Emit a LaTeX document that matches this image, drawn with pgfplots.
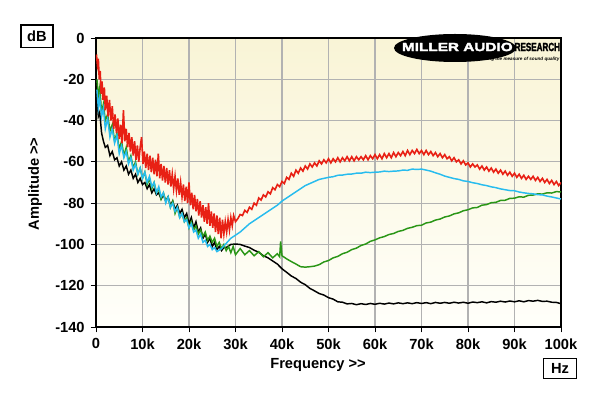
\documentclass[border=0pt]{standalone}
\usepackage{fontspec}
\setmainfont{Liberation Sans}
\newfontfamily\logofont[FakeBold=2.5]{Liberation Sans}
\usepackage{pgfplots}
\pgfplotsset{compat=1.18}
\definecolor{cRed}{RGB}{232,32,20}
\definecolor{cCyan}{RGB}{40,188,238}
\definecolor{cGreen}{RGB}{42,150,22}
\definecolor{cGrid}{RGB}{178,178,178}
\definecolor{bgTop}{RGB}{249,244,214}
\definecolor{bgBot}{RGB}{255,255,250}
\begin{document}
\begin{tikzpicture}[x=1pt,y=1pt]
\useasboundingbox[fill=white] (-72pt,-51.75pt) rectangle (378pt,245.25pt);
\begin{axis}[
  at={(0pt,0pt)}, anchor=south west,
  scale only axis, width=348.75pt, height=216.75pt,
  xmin=0, xmax=100, ymin=-140, ymax=0,
  xtick={0,10,...,100},
  xticklabels={0,10k,20k,30k,40k,50k,60k,70k,80k,90k,100k},
  ytick={-140,-120,...,0},
  tick align=outside, tick pos=left,
  major tick length=4pt,
  tick style={black, line width=0.6pt},
  grid=major,
  major grid style={cGrid, line width=0.8pt},
  axis line style={black, line width=1.5pt},
  axis background/.style={shade, top color=bgTop, bottom color=bgBot},
  /pgf/number format/assume math mode=true,
  ticklabel style={font=\fontsize{11}{13}\selectfont\bfseries},
  xticklabel style={yshift=-1pt},
  yticklabel style={xshift=-1pt},
  clip=true,
]
% black
\addplot[black, line width=1.1pt] coordinates {
(0.2,-28)(0.5,-38)(0.8,-36)(1.2,-46)(1.6,-50)(2.0,-53)(2.5,-52)(3.0,-57)(3.5,-55)(4.0,-59)(4.5,-58)(5.0,-62)(5.5,-60)(6.0,-64)(6.5,-62)(7.0,-66)(7.5,-64)(8.0,-68)(8.5,-66)(9.0,-70)(9.5,-68)(10.0,-71)(10.5,-70)(11.0,-73)(11.5,-71)(12.0,-75)(12.5,-73)(13.0,-76)(13.5,-75)(14.0,-78)(14.5,-76)(15.0,-79)(15.5,-77)(16.0,-81)(16.5,-79)(17.0,-83)(17.5,-81)(18.0,-85)(18.5,-83)(19.0,-87)(19.5,-85)(20.0,-90)(20.5,-87)(21.0,-92)(21.5,-89)(22.0,-94)(22.5,-92)(23.0,-97)(23.5,-95)(24.0,-99)(24.5,-97)(25.0,-101)(25.5,-99)(26.0,-102.5)(26.5,-101)(27.0,-103)(27.5,-101.5)(28.0,-101.5)(29.0,-100)(30.0,-99.8)
(31,-100)(32,-100.8)(33,-101.5)(34,-102.8)(35,-103.8)(36,-105.5)(37,-106.5)(38,-108)(39,-109.5)(40,-111.8)(41,-113.5)(42,-115.3)(43,-116.5)(44,-118.3)(45,-119.5)(46,-121.3)(47,-122.5)(48,-123.8)(49,-124.5)(50,-125.8)(51,-126.5)(52,-127.8)(53,-128)(54,-128.8)(55,-128.6)(56,-129.2)(57,-128.7)(58,-129.1)(59,-128.6)(60,-129)(61,-128.5)(62,-128.9)(63,-128.4)(64,-128.8)(65,-128.3)(66,-128.7)(67,-128.3)(68,-128.7)(69,-128.2)(70,-128.6)(71,-128.2)(72,-128.7)(73,-128.1)(74,-128.5)(75,-128.1)(76,-128.5)(77,-128.0)(78,-128.4)(79,-128.0)(80,-128.5)(81,-127.9)(82,-128.2)(83,-127.8)(84,-128.3)(85,-127.7)(86,-128.0)(87,-127.5)(88,-127.9)(89,-127.4)(90,-127.8)(91,-127.3)(92,-127.8)(93,-127.2)(94,-127.5)(95,-127.1)(96,-127.6)(97,-127.5)(98,-128.0)(99,-128.1)(100,-128.7)
};
% green
\addplot[cGreen, line width=1.1pt] coordinates {
(0.2,-20)(0.5,-28)(0.8,-24)(1.2,-36)(1.6,-32)(2.0,-40)(2.5,-37)(3.0,-45)(3.5,-42)(4.0,-50)(4.5,-46)(5.0,-54)(5.5,-50)(6.0,-57)(6.5,-53)(7.0,-60)(7.5,-57)(8.0,-63)(8.5,-60)(9.0,-66)(9.5,-63)(10.0,-68)(10.5,-65)(11.0,-71)(11.5,-68)(12.0,-73)(12.5,-70)(13.0,-75)(13.5,-73)(14.0,-78)(14.5,-75)(15.0,-79)(15.5,-77)(16.0,-82)(16.5,-79)(17.0,-85)(17.5,-82)(18.0,-87)(18.5,-85)(19.0,-89)(19.5,-87)(20.0,-92)(20.5,-89)(21.0,-93)(21.5,-91)(22.0,-95)(22.5,-93)(23.0,-96)(23.5,-94)(24.0,-98)(24.5,-96)(25.0,-99)(25.5,-97)(26.0,-101)(26.5,-99)(27.0,-102)(27.5,-100)(28.0,-103)(28.5,-101)(29.0,-104)(29.5,-101)(30.0,-105)
(31,-102)(32,-105)(33,-103)(34,-105.5)(35,-103.5)(36,-106)(37,-104)(38,-106.5)(39,-104.5)(39.5,-106)(39.7,-98.5)(40,-105.5)(41,-107)(42,-108.3)(43,-109.5)(44,-110.8)(45,-111)(46,-110.8)(47,-110.5)(48,-109.8)(49,-108.5)(50,-107.8)(51,-106.5)(52,-105.8)(53,-104.5)(54,-103.8)(55,-102.5)(56,-101.8)(57,-100.5)(58,-99.8)(59,-98.5)(60,-97.8)(61,-96.8)(62,-96.2)(63,-95.2)(64,-94.7)(65,-93.7)(66,-93.2)(67,-92.2)(68,-91.7)(69,-90.9)(70,-90.7)(71,-89.6)(72,-89.2)(73,-88.2)(74,-87.7)(75,-86.7)(76,-86.2)(77,-85.2)(78,-84.7)(79,-83.7)(80,-83.2)(81,-82.3)(82,-82.1)(83,-81.0)(84,-80.7)(85,-79.8)(86,-79.6)(87,-78.7)(88,-78.6)(89,-77.7)(90,-77.6)(91,-76.9)(92,-77.1)(93,-76.2)(94,-76.1)(95,-75.5)(96,-75.6)(97,-75.0)(98,-75.1)(99,-74.4)(100,-74.6)
};
% cyan
\addplot[cCyan, line width=1.1pt] coordinates {
(0.2,-25)(0.5,-34)(0.8,-29)(1.2,-38)(1.6,-34)(2.0,-44)(2.5,-39)(3.0,-48)(3.5,-44)(4.0,-51)(4.5,-47)(5.0,-56)(5.5,-52)(6.0,-58)(6.5,-55)(7.0,-61)(7.5,-58)(8.0,-64)(8.5,-61)(9.0,-66)(9.5,-63)(10.0,-68)(10.5,-65)(11.0,-70)(11.5,-67)(12.0,-72)(12.5,-70)(13.0,-75)(13.5,-72)(14.0,-77)(14.5,-75)(15.0,-80)(15.5,-77)(16.0,-82)(16.5,-80)(17.0,-84)(17.5,-82)(18.0,-87)(18.5,-85)(19.0,-89)(19.5,-88)(20.0,-92)(20.5,-90)(21.0,-94)(21.5,-93)(22.0,-97)(22.5,-95)(23.0,-99)(23.5,-98)(24.0,-101)(24.5,-100)(25.0,-102.5)(25.5,-101.5)(26.0,-103.5)(27.0,-102)(28.0,-99.5)(29.0,-97)(30.0,-95.5)
(31,-94)(32,-92)(33,-90)(34,-88.5)(35,-87)(36,-85.5)(37,-84)(38,-82.5)(39,-81)(40,-79)(41,-77.5)(42,-76)(43,-74.5)(44,-73)(45,-71.5)(46,-70.5)(47,-69.5)(48,-68.5)(49,-68)(50,-67.5)(51,-67.2)(52,-66.5)(53,-66.4)(54,-66)(55,-65.9)(56,-65.5)(57,-65.5)(58,-65)(59,-65.2)(60,-65)(61,-64.9)(62,-64.5)(63,-64.7)(64,-64.5)(65,-64.4)(66,-64)(67,-64.1)(68,-63.5)(69,-63.7)(70,-63.5)(71,-64.0)(72,-64.5)(73,-65.3)(74,-66)(75,-66.9)(76,-67.5)(77,-68.1)(78,-68.5)(79,-69.2)(80,-69.5)(81,-70.1)(82,-70.5)(83,-71.1)(84,-71.5)(85,-72.1)(86,-72.5)(87,-73.1)(88,-73.5)(89,-73.9)(90,-74)(91,-74.6)(92,-75)(93,-75.3)(94,-75.5)(95,-75.9)(96,-76)(97,-76.6)(98,-77)(99,-77.5)(100,-78)
};
% red
\addplot[cRed, line width=1.2pt] coordinates {
(0.1,-8)(0.3,-13)(0.5,-10)(0.7,-20)(0.9,-16)(1.1,-27)(1.3,-21)(1.5,-30)(1.8,-24)(2.0,-35)(2.3,-28)(2.6,-38)(2.9,-30)(3.2,-40)(3.5,-33)(3.8,-44)(4.1,-37)(4.4,-46)(4.7,-39)(5.0,-49)(5.3,-42)(5.6,-51)(5.9,-35)(6.2,-50)(6.5,-44)(6.8,-53)(7.1,-46)(7.4,-55)(7.7,-48)(8.0,-57)(8.3,-50)(8.6,-59)(8.9,-52)(9.2,-60)(9.5,-53)(9.8,-48)(10.1,-61)(10.4,-55)(10.7,-63)(11.0,-56)(11.3,-64)(11.6,-57)(11.9,-65)(12.2,-58)(12.5,-66)(12.8,-59)(13.1,-67)(13.4,-56)(13.7,-68)(14.0,-61)(14.3,-69)(14.6,-62)(14.9,-70)(15.2,-63)(15.5,-71)(15.8,-64)(16.1,-72)(16.4,-66)(16.7,-73)(17.0,-67)(17.3,-74)(17.6,-68)(17.9,-76)(18.2,-70)(18.5,-77)(18.8,-71)(19.1,-79)(19.4,-72)(19.7,-80)(20.0,-70)(20.3,-81)(20.6,-75)(20.9,-83)(21.2,-76)(21.5,-84)(21.8,-78)(22.1,-86)(22.4,-79)(22.7,-87)(23.0,-81)(23.3,-89)(23.6,-82)(23.9,-90)(24.2,-80)(24.5,-91)(24.8,-84)(25.1,-92)(25.4,-85)(25.7,-94)(26.0,-86)(26.3,-95)(26.6,-87)(26.9,-97)(27.2,-88)(27.5,-95)(27.8,-89)(28.1,-94)(28.4,-88)(28.7,-93)(29.0,-87)(29.3,-91)(29.6,-86)(30.0,-89)
(30.5,-87.5)(31,-85.5)(31.5,-86)(32,-83.5)(32.5,-84.5)(33,-82)(33.5,-83)(34,-80)(34.5,-81)(35,-77.5)(35.5,-78.5)(36,-76)(36.5,-77)(37,-74.5)(37.5,-75.5)(38,-72.5)(38.5,-73.5)(39,-71)(39.5,-72)(40,-69.5)(40.5,-70.5)(41,-67.5)(41.5,-68.5)(42,-65.5)(42.5,-67)(43,-64)(43.5,-65.5)(44,-63)(44.5,-64.5)(45,-62)(45.5,-63.5)(46,-61)(46.5,-62.5)(47,-60.5)(47.5,-62)(48,-59.5)(48.5,-61)(49,-59)(49.5,-60.5)(50,-58.5)(50.5,-60.5)(51,-58.5)(51.5,-60)(52,-58)(52.5,-60)(53,-58)(53.5,-59.5)(54,-57.5)(54.5,-59.5)(55,-57.5)(55.5,-59.5)(56,-57.5)(56.5,-59)(57,-57.5)(57.5,-59)(58,-57)(58.5,-59)(59,-57)(59.5,-58.5)(60,-56.5)(60.5,-58.5)(61,-56.5)(61.5,-58.5)(62,-56)(62.5,-58)(63,-56)(63.5,-58)(64,-55.5)(64.5,-57.5)(65,-55.5)(65.5,-57)(66,-55)(66.5,-57)(67,-54.5)(67.5,-56.5)(68,-54.5)(68.5,-56)(69,-54)(69.5,-56)(70,-54.5)(70.5,-56.5)(71,-54.5)(71.5,-56.5)(72,-55)(72.5,-57)(73,-55.5)(73.5,-57.5)(74,-56)(74.5,-58)(75,-56.5)(75.5,-58.5)(76,-57.5)(76.5,-59.5)(77,-58)(77.5,-60)(78,-59)(78.5,-61)(79,-59.5)(79.5,-61.5)(80,-60.5)(80.5,-62.5)(81,-61)(81.5,-62.5)(82,-61.5)(82.5,-63.5)(83,-62)(83.5,-64)(84,-62.5)(84.5,-64.5)(85,-63)(85.5,-65)(86,-63.5)(86.5,-65.5)(87,-64)(87.5,-66)(88,-64.5)(88.5,-66.5)(89,-65)(89.5,-67)(90,-65.5)(90.5,-67.5)(91,-66)(91.5,-68)(92,-66.5)(92.5,-68.5)(93,-67)(93.5,-68.5)(94,-67)(94.5,-69)(95,-67.5)(95.5,-69.5)(96,-68)(96.5,-70)(97,-68.5)(97.5,-70.5)(98,-69)(98.5,-71)(99,-69.5)(99.5,-71.5)(100,-70)
};
\end{axis}
% logo
\fill[black] (269.25pt,209.25pt) ellipse [x radius=45.75pt, y radius=10.5pt];
\node[text=white, inner sep=0pt] at (271pt,210pt) {\resizebox{83pt}{6.2pt}{\logofont\bfseries MILLER AUDIO}};
\node[text=black, inner sep=0pt] at (331pt,210pt) {\resizebox{34pt}{6.2pt}{\logofont\bfseries RESEARCH}};
\node[text=black, inner sep=0pt] at (317pt,201pt) {\resizebox{61pt}{!}{\tiny\bfseries\itshape Getting the measure of sound quality}};
% labels
\node[font=\fontsize{11}{13}\selectfont\bfseries, rotate=90] at (-45.75pt,107.25pt) {Amplitude >{}>};
\node[font=\fontsize{11}{13}\selectfont\bfseries] at (166.5pt,-28.5pt) {Frequency >{}>};
\node[draw=black, line width=1pt, fill=white, minimum width=24pt, minimum height=17pt, inner sep=0pt, font=\fontsize{11}{13}\selectfont\bfseries] at (-44.25pt,217.9pt) {dB};
\node[draw=black, line width=1pt, fill=white, minimum width=24.5pt, minimum height=15pt, inner sep=0pt, font=\fontsize{11}{13}\selectfont\bfseries] at (348pt,-31pt) {Hz};
\end{tikzpicture}
\end{document}
